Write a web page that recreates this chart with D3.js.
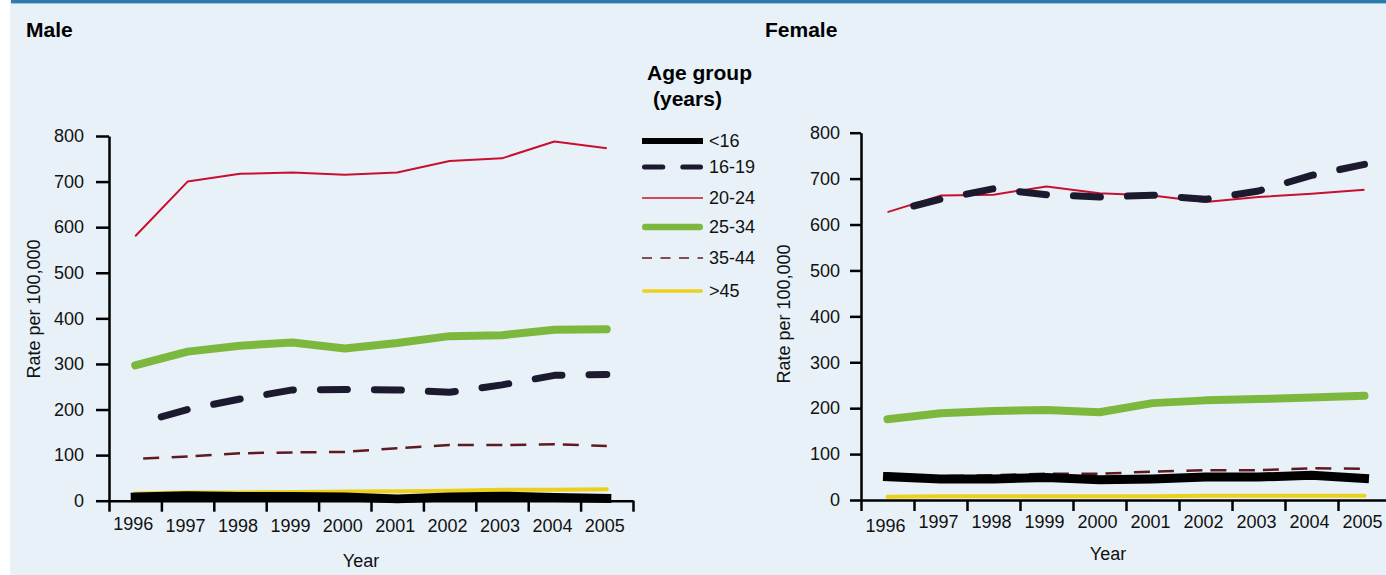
<!DOCTYPE html>
<html>
<head>
<meta charset="utf-8">
<script src="https://cdn.jsdelivr.net/npm/d3@7"></script>
<style>
  body { margin: 0; background: #fff; }
  svg { display: block; font-family: "Liberation Sans", Arial, Helvetica, sans-serif; }
</style>
</head>
<body>
<svg id="chart" width="1386" height="575"></svg>
<script>
// ---- data: rate per 100,000 by age group, 1996-2005 ----
const years = ["1996", "1997", "1998", "1999", "2000", "2001", "2002", "2003", "2004", "2005"];
const ageGroups = ["<16", "16-19", "20-24", "25-34", "35-44", ">45"];
const yTicks = [0, 100, 200, 300, 400, 500, 600, 700, 800];

const maleUnder16 = [8, 11, 9, 9, 8, 4, 8, 10, 7, 5];
const male16to19  = [168, 200, 223, 243, 244, 243, 238, 254, 275, 277];
const male20to24  = [580, 700, 717, 720, 715, 720, 745, 751, 788, 773];
const male25to34  = [297, 327, 340, 347, 334, 346, 361, 363, 375, 376];
const male35to44  = [92, 97, 104, 106, 107, 115, 122, 122, 124, 120];
const maleOver45  = [16, 18, 18, 19, 20, 21, 22, 24, 24, 25];

const femaleUnder16 = [51, 46, 46, 49, 44, 46, 50, 50, 54, 47];
const female16to19  = [626, 655, 678, 665, 660, 664, 655, 673, 707, 731];
const female20to24  = [627, 663, 665, 683, 668, 663, 649, 660, 667, 676];
const female25to34  = [176, 189, 194, 196, 191, 211, 217, 220, 223, 227];
const female35to44  = [50, 52, 54, 57, 57, 62, 65, 65, 69, 68];
const femaleOver45  = [7, 8, 8, 8, 8, 8, 9, 9, 9, 9];

const maleSeries = {
  "<16": maleUnder16, "16-19": male16to19, "20-24": male20to24,
  "25-34": male25to34, "35-44": male35to44, ">45": maleOver45
};
const femaleSeries = {
  "<16": femaleUnder16, "16-19": female16to19, "20-24": female20to24,
  "25-34": female25to34, "35-44": female35to44, ">45": femaleOver45
};

// ---- line styles per age group ----
const lineStyle = {
  "<16":   { color: "#000000", width: 9,   cap: "square" },
  "16-19": { color: "#1c1a2e", width: 7,   cap: "round", dash: "27,27", offset: 27 },
  "20-24": { color: "#c8102e", width: 2,   cap: "butt" },
  "25-34": { color: "#7cb83e", width: 8,   cap: "round" },
  "35-44": { color: "#5e1a20", width: 2.5, cap: "butt", dash: "16,12.5,16,8", offset: 44.5 },
  ">45":   { color: "#ecd11c", width: 4,   cap: "round" }
};
const legendStyle = {
  "<16":   { width: 6,   cap: "butt" },
  "16-19": { width: 5,   cap: "round", dash: "18.3,20" },
  "20-24": { width: 1.6, cap: "butt" },
  "25-34": { width: 6.5, cap: "round" },
  "35-44": { width: 1.6, cap: "butt", dash: "10,8.5" },
  ">45":   { width: 3.5, cap: "round" }
};
const drawOrder = ["20-24", "25-34", "35-44", ">45", "<16", "16-19"];

const svg = d3.select("#chart");

// background panel and top rule
svg.append("rect").attr("x", 10).attr("y", 0).attr("width", 1376).attr("height", 575).attr("fill", "#e8f1f8");
svg.append("rect").attr("x", 11).attr("y", 0).attr("width", 1375).attr("height", 3.4).attr("fill", "#2b7bae");

function drawPanel(cfg, series) {
  const g = svg.append("g");
  const x = d3.scaleBand().domain(years).range([cfg.x0, cfg.x1]);
  const xEdge = d3.scaleLinear().domain([0, years.length]).range([cfg.x0, cfg.x1]);
  const y = d3.scaleLinear().domain([0, 800]).range([cfg.yBottom, cfg.yTop]);
  const cx = yr => x(yr) + x.bandwidth() / 2;

  // title
  g.append("text").attr("x", cfg.titleX).attr("y", 37)
    .attr("font-size", 21).attr("font-weight", "bold").attr("fill", "#000")
    .text(cfg.title);

  // y axis
  const ya = g.append("g").attr("transform", `translate(${cfg.x0},0)`)
    .call(d3.axisLeft(y).tickValues(yTicks).tickSize(cfg.tickY).tickSizeOuter(0).tickPadding(cfg.padY));
  // x axis: ticks on band boundaries
  const xa = g.append("g").attr("transform", `translate(0,${cfg.yBottom})`)
    .call(d3.axisBottom(xEdge).tickValues(d3.range(0, years.length + 1)).tickFormat(() => "")
      .tickSize(11).tickSizeOuter(0));
  [ya, xa].forEach(a => {
    a.attr("font-family", null).attr("font-size", null);
    a.selectAll("path, line").attr("stroke", "#000").attr("stroke-width", 2.5);
  });
  ya.selectAll("text").attr("font-size", 18).attr("fill", "#111");

  // year labels centred in each band
  g.selectAll(".yr").data(years).join("text")
    .attr("x", d => cx(d) - 2)
    .attr("y", (d, i) => cfg.labelY + (i === 0 ? cfg.firstLabelDy : 0))
    .attr("text-anchor", "middle").attr("font-size", 18).attr("fill", "#111")
    .text(d => d);

  // axis titles
  g.append("text").attr("x", cfg.xTitleX).attr("y", cfg.xTitleY)
    .attr("text-anchor", "middle").attr("font-size", 18).attr("fill", "#111").text("Year");
  g.append("text")
    .attr("transform", `translate(${cfg.yTitleX},${cfg.yTitleY}) rotate(-90)`)
    .attr("text-anchor", "middle").attr("font-size", 18).attr("fill", "#111")
    .text("Rate per 100,000");

  // series lines
  const line = d3.line().x((d, i) => cx(years[i])).y(d => y(d));
  drawOrder.forEach(k => {
    const s = lineStyle[k];
    g.append("path").datum(series[k])
      .attr("d", line)
      .attr("fill", "none")
      .attr("stroke", s.color)
      .attr("stroke-width", s.width)
      .attr("stroke-linecap", s.cap)
      .attr("stroke-linejoin", "round")
      .attr("stroke-dasharray", s.dash || null)
      .attr("stroke-dashoffset", s.offset || null);
  });
}

drawPanel({
  title: "Male", titleX: 26,
  x0: 109, x1: 633, yBottom: 500.7, yTop: 136,
  tickY: 13, padY: 12, labelY: 532, firstLabelDy: -2,
  xTitleX: 361, xTitleY: 567, yTitleX: 39.5, yTitleY: 309
}, maleSeries);

drawPanel({
  title: "Female", titleX: 765,
  x0: 861, x1: 1391, yBottom: 500, yTop: 132.7,
  tickY: 11, padY: 10, labelY: 528, firstLabelDy: 4,
  xTitleX: 1108, xTitleY: 560, yTitleX: 790, yTitleY: 314
}, femaleSeries);

// legend
const legend = svg.append("g");
legend.append("text").attr("x", 647).attr("y", 80)
  .attr("font-size", 21).attr("font-weight", "bold").attr("fill", "#000").text("Age group");
legend.append("text").attr("x", 653).attr("y", 106)
  .attr("font-size", 21).attr("font-weight", "bold").attr("fill", "#000").text("(years)");

const legendRowY = [141, 167, 198, 227, 258, 291];
const legendX0 = 642, legendX1 = 703;
ageGroups.forEach((k, i) => {
  const ls = legendStyle[k];
  const inset = ls.cap === "round" ? ls.width / 2 : 0;
  legend.append("line")
    .attr("x1", legendX0 + inset).attr("x2", legendX1 - inset)
    .attr("y1", legendRowY[i]).attr("y2", legendRowY[i])
    .attr("stroke", lineStyle[k].color)
    .attr("stroke-width", ls.width)
    .attr("stroke-linecap", ls.cap)
    .attr("stroke-dasharray", ls.dash || null);
  legend.append("text")
    .attr("x", 709).attr("y", legendRowY[i]).attr("dy", "0.35em")
    .attr("font-size", 18).attr("fill", "#111").text(k);
});
</script>
</body>
</html>
